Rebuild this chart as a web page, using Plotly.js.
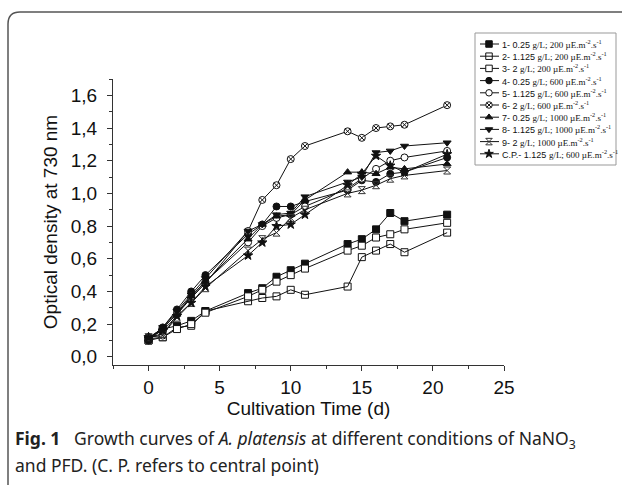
<!DOCTYPE html>
<html>
<head>
<meta charset="utf-8">
<script src="https://cdn.plot.ly/plotly-3.0.1.min.js"></script>
<style>html,body{margin:0;padding:0;background:#fff;}#chart{width:622px;height:485px;}</style>
</head>
<body>
<div id="chart"></div>
<script>
// ---- data ----
const days = [0, 1, 2, 3, 4, 7, 8, 9, 10, 11, 14, 15, 16, 17, 18, 21];
const s1 = [0.10, 0.17, 0.19, 0.22, 0.28, 0.39, 0.42, 0.49, 0.53, 0.57, 0.69, 0.72, 0.78, 0.88, 0.83, 0.87];
const s2 = [0.11, 0.12, 0.18, 0.19, 0.28, 0.34, 0.36, 0.37, 0.41, 0.38, 0.43, 0.61, 0.65, 0.69, 0.64, 0.76];
const s3 = [0.10, 0.12, 0.17, 0.20, 0.27, 0.37, 0.41, 0.46, 0.50, 0.54, 0.65, 0.68, 0.73, 0.75, 0.78, 0.82];
const s4 = [0.10, 0.18, 0.29, 0.40, 0.50, 0.75, 0.81, 0.92, 0.92, 0.95, 1.02, 1.08, 1.07, 1.12, 1.13, 1.22];
const s5 = [0.12, 0.17, 0.27, 0.37, 0.46, 0.70, 0.80, 0.85, 0.87, 0.92, 1.03, 1.09, 1.15, 1.20, 1.22, 1.26];
const s6 = [0.12, 0.13, 0.26, 0.36, 0.45, 0.77, 0.96, 1.05, 1.21, 1.29, 1.38, 1.34, 1.40, 1.41, 1.42, 1.54];
const s7 = [0.11, 0.18, 0.26, 0.37, 0.46, 0.72, 0.81, 0.86, 0.87, 0.96, 1.13, 1.13, 1.12, 1.16, 1.15, 1.18];
const s8 = [0.11, 0.18, 0.28, 0.38, 0.48, 0.77, 0.81, 0.87, 0.88, 0.98, 1.07, 1.10, 1.25, 1.26, 1.29, 1.31];
const s9 = [0.12, 0.14, 0.24, 0.33, 0.42, 0.65, 0.72, 0.76, 0.85, 0.90, 1.00, 1.02, 1.05, 1.09, 1.11, 1.14];
const s10 = [0.12, 0.16, 0.25, 0.33, 0.43, 0.62, 0.70, 0.80, 0.81, 0.87, 1.05, 1.12, 1.23, 1.17, 1.13, 1.24];
const seriesValues = [s1, s2, s3, s4, s5, s6, s7, s8, s9, s10];

const labelIds = ['1-', '2-', '3-', '4-', '5-', '6-', '7-', '8-', '9-', 'C.P.-'];
const concentrations = ['0.25', '1.125', '2', '0.25', '1.125', '2', '0.25', '1.125', '2', '1.125'];
const pfds = ['200', '200', '200', '600', '600', '600', '1000', '1000', '1000', '600'];

const yTitle = 'Optical density at 730 nm';
const xTitle = 'Cultivation Time (d)';
const captionLine1 = '<b>Fig. 1</b>   Growth curves of <i>A. platensis</i> at different conditions of NaNO<sub>3</sub>';
const captionLine2 = 'and PFD. (C. P. refers to central point)';

// ---- styles ----
const INK = '#111';
const markerStyles = [
  {symbol: 'square', color: INK},
  {symbol: 'square-open', color: INK},
  {symbol: 'square', color: '#fff'},
  {symbol: 'circle', color: INK},
  {symbol: 'circle', color: '#fff'},
  {symbol: 'circle-x', color: '#fff'},
  {symbol: 'triangle-up', color: INK},
  {symbol: 'triangle-down', color: INK},
  {symbol: 'hourglass-open', color: '#333'},
  {symbol: 'star', color: INK}
];

// ---- geometry (pixels) ----
const W = 622, H = 485;
const PL = 113, PR = 504, PT = 79, PB = 365;
const LX0 = 475, LX1 = 616, LY0 = 33, LY1 = 165;
const px = v => v / W;
const py = v => 1 - v / H;

const traces = [];
seriesValues.forEach((vals, i) => {
  const st = markerStyles[i];
  traces.push({
    x: days, y: vals, type: 'scatter', mode: 'lines+markers',
    line: {color: INK, width: 1},
    marker: {symbol: st.symbol, color: st.color, size: 7,
             line: {color: INK, width: 1}},
    name: labelIds[i] + ' ' + concentrations[i] + ' g/L; ' + pfds[i],
    xaxis: 'x', yaxis: 'y', hoverinfo: 'x+y+name'
  });
});

// custom legend (drawn in a hidden pixel-scaled subplot)
const annotations = [];
const legendStep = 12.2, legendFirst = 44;
seriesValues.forEach((vals, i) => {
  const st = markerStyles[i];
  const yy = legendFirst + legendStep * i;
  traces.push({
    x: [480, 489, 499], y: [yy, yy, yy], type: 'scatter', mode: 'lines+markers',
    line: {color: INK, width: 1},
    marker: {symbol: st.symbol, color: st.color, size: 6.5, opacity: [0, 1, 0],
             line: {color: INK, width: 1}},
    xaxis: 'x2', yaxis: 'y2', hoverinfo: 'skip', showlegend: false
  });
  annotations.push({
    xref: 'x2', yref: 'y2', x: 499.5, y: yy, xanchor: 'left', yanchor: 'middle',
    showarrow: false,
    text: '<span style="font-family:Liberation Sans, Arial">' + labelIds[i] + ' ' + concentrations[i] +
          ' </span>g/L; ' + pfds[i] + ' µE.m<sup>-2</sup>.s<sup>-1</sup>',
    font: {family: 'Liberation Serif, Times New Roman, serif', size: 9, color: INK}
  });
});

annotations.push({
  xref: 'paper', yref: 'paper', x: px(13), y: py(439), xanchor: 'left', yanchor: 'middle',
  showarrow: false, text: captionLine1, align: 'left',
  font: {family: 'Noto Sans, Open Sans, sans-serif', size: 17.5, color: '#222'}
});
annotations.push({
  xref: 'paper', yref: 'paper', x: px(13), y: py(465), xanchor: 'left', yanchor: 'middle',
  showarrow: false, text: captionLine2, align: 'left',
  font: {family: 'Noto Sans, Open Sans, sans-serif', size: 17.5, color: '#222'}
});

const shapes = [
  // frame (rounded top-left corner)
  {type: 'path', xref: 'paper', yref: 'paper',
   path: 'M ' + px(8) + ',' + py(H + 5) + ' L ' + px(8) + ',' + py(24) +
         ' Q ' + px(8) + ',' + py(12) + ' ' + px(20) + ',' + py(12) +
         ' L ' + px(W + 5) + ',' + py(12),
   line: {color: '#555', width: 1.5}},
  // legend box
  {type: 'rect', xref: 'paper', yref: 'paper',
   x0: px(LX0), x1: px(LX1), y0: py(LY1), y1: py(LY0),
   line: {color: '#999', width: 1}, fillcolor: 'rgba(0,0,0,0)'}
];

const tickFont = {family: 'Liberation Sans, Arial, sans-serif', size: 19, color: INK};
const layout = {
  width: W, height: H,
  margin: {l: 0, r: 0, t: 0, b: 0},
  paper_bgcolor: '#fff', plot_bgcolor: '#fff',
  separators: ',.',
  showlegend: false,
  xaxis: {
    domain: [px(PL), px(PR)], range: [-2.5, 25], tick0: 0, dtick: 5,
    ticks: 'outside', ticklen: 5, tickcolor: '#333', tickwidth: 1,
    minor: {dtick: 2.5, ticks: 'outside', ticklen: 3, tickcolor: '#333'},
    showline: true, linecolor: '#333', linewidth: 1, showgrid: false, zeroline: false,
    tickfont: tickFont, anchor: 'y',
    title: {text: xTitle, font: tickFont, standoff: 3}
  },
  yaxis: {
    domain: [py(PB), py(PT)], range: [-0.05, 1.7], tick0: 0, dtick: 0.2, tickformat: '.1f',
    ticks: 'outside', ticklen: 5, tickcolor: '#333', tickwidth: 1,
    minor: {dtick: 0.1, ticks: 'outside', ticklen: 3, tickcolor: '#333'},
    showline: true, linecolor: '#333', linewidth: 1, showgrid: false, zeroline: false,
    tickfont: tickFont, anchor: 'x', ticklabelstandoff: 6,
    title: {text: yTitle, font: tickFont, standoff: 8}
  },
  xaxis2: {domain: [px(LX0), px(LX1)], range: [LX0, LX1], visible: false, anchor: 'y2', fixedrange: true},
  yaxis2: {domain: [py(LY1), py(LY0)], range: [LY1, LY0], visible: false, anchor: 'x2', fixedrange: true},
  annotations: annotations,
  shapes: shapes
};

Plotly.newPlot('chart', traces, layout, {displayModeBar: false, staticPlot: true});
</script>
</body>
</html>
